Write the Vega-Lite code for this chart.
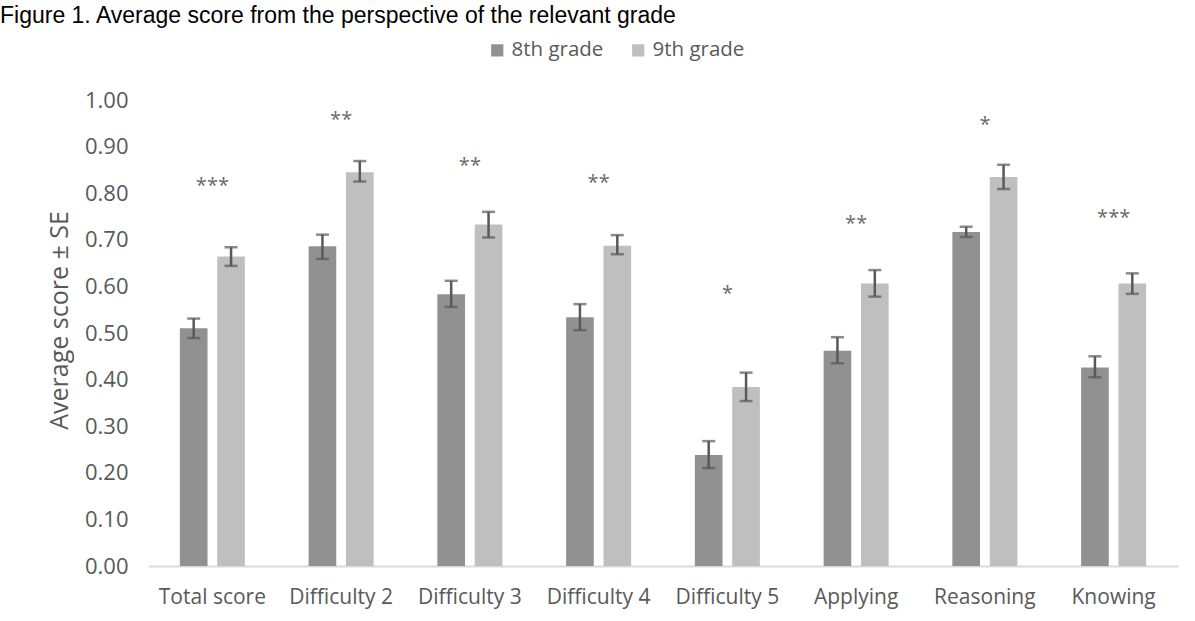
{
  "$schema": "https://vega.github.io/schema/vega-lite/v6.json",
  "autosize": {"type": "none"},
  "padding": {"left": 148, "top": 100, "right": 17, "bottom": 55},
  "width": 1030,
  "height": 466,
  "background": "white",
  "title": {
    "text": "Figure 1. Average score from the perspective of the relevant grade",
    "anchor": "start",
    "frame": "group",
    "font": "Liberation Sans",
    "fontSize": 23,
    "fontWeight": "normal",
    "color": "#000000",
    "dx": -148,
    "dy": -12,
    "offset": 0
  },
  "datasets": {
    "bars": [
      {"category": "Total score", "grade": "8th grade", "score": 0.510, "lo": 0.489, "hi": 0.531},
      {"category": "Total score", "grade": "9th grade", "score": 0.664, "lo": 0.644, "hi": 0.684},
      {"category": "Difficulty 2", "grade": "8th grade", "score": 0.686, "lo": 0.659, "hi": 0.711},
      {"category": "Difficulty 2", "grade": "9th grade", "score": 0.845, "lo": 0.825, "hi": 0.869},
      {"category": "Difficulty 3", "grade": "8th grade", "score": 0.583, "lo": 0.556, "hi": 0.612},
      {"category": "Difficulty 3", "grade": "9th grade", "score": 0.733, "lo": 0.705, "hi": 0.760},
      {"category": "Difficulty 4", "grade": "8th grade", "score": 0.534, "lo": 0.506, "hi": 0.562},
      {"category": "Difficulty 4", "grade": "9th grade", "score": 0.687, "lo": 0.669, "hi": 0.710},
      {"category": "Difficulty 5", "grade": "8th grade", "score": 0.238, "lo": 0.210, "hi": 0.268},
      {"category": "Difficulty 5", "grade": "9th grade", "score": 0.384, "lo": 0.354, "hi": 0.415},
      {"category": "Applying", "grade": "8th grade", "score": 0.462, "lo": 0.435, "hi": 0.491},
      {"category": "Applying", "grade": "9th grade", "score": 0.606, "lo": 0.578, "hi": 0.635},
      {"category": "Reasoning", "grade": "8th grade", "score": 0.717, "lo": 0.706, "hi": 0.728},
      {"category": "Reasoning", "grade": "9th grade", "score": 0.835, "lo": 0.809, "hi": 0.861},
      {"category": "Knowing", "grade": "8th grade", "score": 0.426, "lo": 0.405, "hi": 0.450},
      {"category": "Knowing", "grade": "9th grade", "score": 0.606, "lo": 0.584, "hi": 0.628}
    ],
    "sig": [
      {"category": "Total score", "stars": "***", "at": 0.832},
      {"category": "Difficulty 2", "stars": "**", "at": 0.975},
      {"category": "Difficulty 3", "stars": "**", "at": 0.876},
      {"category": "Difficulty 4", "stars": "**", "at": 0.839},
      {"category": "Difficulty 5", "stars": "*", "at": 0.601},
      {"category": "Applying", "stars": "**", "at": 0.752},
      {"category": "Reasoning", "stars": "*", "at": 0.963},
      {"category": "Knowing", "stars": "***", "at": 0.764}
    ]
  },
  "config": {
    "view": {"stroke": null},
    "font": "Open Sans",
    "axis": {"labelColor": "#595959", "titleColor": "#595959", "labelFont": "Open Sans", "titleFont": "Open Sans"}
  },
  "layer": [
    {
      "data": {"name": "bars"},
      "mark": {"type": "bar"},
      "encoding": {
        "x": {
          "field": "category", "type": "nominal", "sort": null,
          "scale": {"paddingInner": 0.495, "paddingOuter": 0.2475},
          "axis": {"title": null, "labelAngle": 0, "labelFontSize": 21, "labelPadding": 20, "ticks": false, "domainColor": "#d9d9d9", "domainWidth": 2, "labelOverlap": false}
        },
        "xOffset": {"field": "grade", "type": "nominal", "scale": {"paddingInner": 0.26, "paddingOuter": 0}},
        "y": {
          "field": "score", "type": "quantitative",
          "scale": {"domain": [0, 1], "nice": false},
          "axis": {"title": "Average score ± SE", "format": ".2f", "values": [0,0.1,0.2,0.3,0.4,0.5,0.6,0.7,0.8,0.9,1.0], "labelOverlap": false, "grid": false, "domain": false, "ticks": false, "labelFontSize": 22, "labelPadding": 20, "titleFontSize": 25, "titleFontWeight": "normal", "titlePadding": 12, "titleY": 220}
        },
        "color": {
          "field": "grade", "type": "nominal",
          "scale": {"domain": ["8th grade", "9th grade"], "range": ["#919191", "#bfbfbf"]},
          "legend": {"title": null, "orient": "none", "legendX": 339, "legendY": -60, "direction": "horizontal", "symbolType": "square", "symbolSize": 150, "symbolStrokeWidth": 0, "symbolOffset": 0, "labelOffset": 4, "labelFontSize": 20.5, "labelColor": "#595959", "labelFont": "Open Sans", "columnPadding": 24}
        }
      }
    },
    {
      "data": {"name": "bars"},
      "mark": {"type": "rule", "color": "#595959", "strokeWidth": 2.5},
      "encoding": {
        "x": {"field": "category", "type": "nominal", "sort": null},
        "xOffset": {"field": "grade", "type": "nominal"},
        "y": {"field": "lo", "type": "quantitative"},
        "y2": {"field": "hi"}
      }
    },
    {
      "data": {"name": "bars"},
      "mark": {"type": "tick", "color": "#595959", "thickness": 2.5, "size": 13, "orient": "horizontal"},
      "encoding": {
        "x": {"field": "category", "type": "nominal", "sort": null},
        "xOffset": {"field": "grade", "type": "nominal"},
        "y": {"field": "lo", "type": "quantitative"}
      }
    },
    {
      "data": {"name": "bars"},
      "mark": {"type": "tick", "color": "#595959", "thickness": 2.5, "size": 13, "orient": "horizontal"},
      "encoding": {
        "x": {"field": "category", "type": "nominal", "sort": null},
        "xOffset": {"field": "grade", "type": "nominal"},
        "y": {"field": "hi", "type": "quantitative"}
      }
    },
    {
      "data": {"name": "sig"},
      "mark": {"type": "text", "color": "#6a6a6a", "fontSize": 20, "baseline": "middle", "align": "center", "dy": 8},
      "encoding": {
        "x": {"field": "category", "type": "nominal", "sort": null},
        "y": {"field": "at", "type": "quantitative"},
        "text": {"field": "stars"}
      }
    }
  ]
}
